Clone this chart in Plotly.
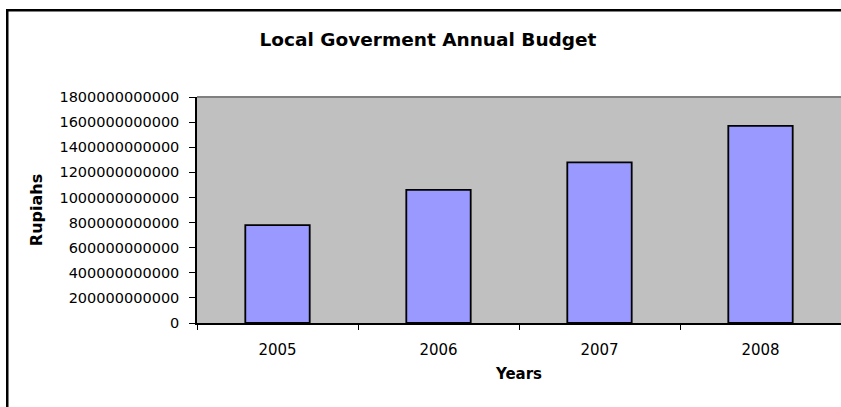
import plotly.graph_objects as go

years = ["2005", "2006", "2007", "2008"]
budget = [780e9, 1060e9, 1280e9, 1570e9]
y_ticks = [i * 200e9 for i in range(10)]
y_tick_labels = ["0"] + [str(int(v)) for v in y_ticks[1:]]

W, H = 841, 407
L, R, T, B = 197, 0, 97, 84
pw = W - L - R
ph = H - T - B

def px_x(x):
    return (x - L) / pw

def px_y(y):
    return (H - B - y) / ph

fig = go.Figure()
fig.add_trace(go.Bar(
    x=years, y=budget,
    marker=dict(color="#9999FF", line=dict(color="black", width=1.8)),
    width=0.4,
))

font_fam = "DejaVu Sans, Liberation Sans, Arial, sans-serif"

def band(x0, x1, y0, y1, color):
    return dict(type="rect", xref="paper", yref="paper",
                x0=px_x(x0), x1=px_x(x1), y0=px_y(y1), y1=px_y(y0),
                fillcolor=color, line=dict(width=0), layer="above")

fig.update_layout(
    width=W, height=H,
    margin=dict(l=L, r=R, t=T, b=B, pad=0),
    paper_bgcolor="white",
    plot_bgcolor="#C0C0C0",
    showlegend=False,
    font=dict(family=font_fam, color="black"),
    title=dict(
        text="<b>Local Goverment Annual Budget</b>",
        font=dict(size=18.5, family=font_fam, color="black"),
        x=px_x(428), xref="paper", xanchor="center",
        y=1 - 40 / H, yref="container", yanchor="middle",
    ),
    xaxis=dict(
        type="category",
        tickson="boundaries",
        ticks="outside", ticklen=5, tickcolor="black", tickwidth=1,
        showline=True, linecolor="black", linewidth=2,
        showgrid=False,
        tickfont=dict(size=15, family=font_fam),
        ticklabelstandoff=12,
        title=dict(text="<b>Years</b>", font=dict(size=15, family=font_fam), standoff=10),
        range=[-0.5, 3.5],
    ),
    yaxis=dict(
        range=[0, 1.8e12],
        tickmode="array", tickvals=y_ticks, ticktext=y_tick_labels,
        ticks="outside", ticklen=6, tickcolor="black", tickwidth=1,
        showline=True, linecolor="black", linewidth=1.5,
        showgrid=False, zeroline=False,
        tickfont=dict(size=14.5, family=font_fam),
        ticklabelstandoff=7,
        title=dict(text="<b>Rupiahs</b>", font=dict(size=16, family=font_fam), standoff=13),
    ),
    shapes=[
        band(197, 860, 96, 98, "#808080"),
        band(6, 8.5, 9, 420, "black"),
        band(6, 860, 9, 11.5, "black"),
    ],
)

fig.write_html("out.html", config={"displayModeBar": False})
